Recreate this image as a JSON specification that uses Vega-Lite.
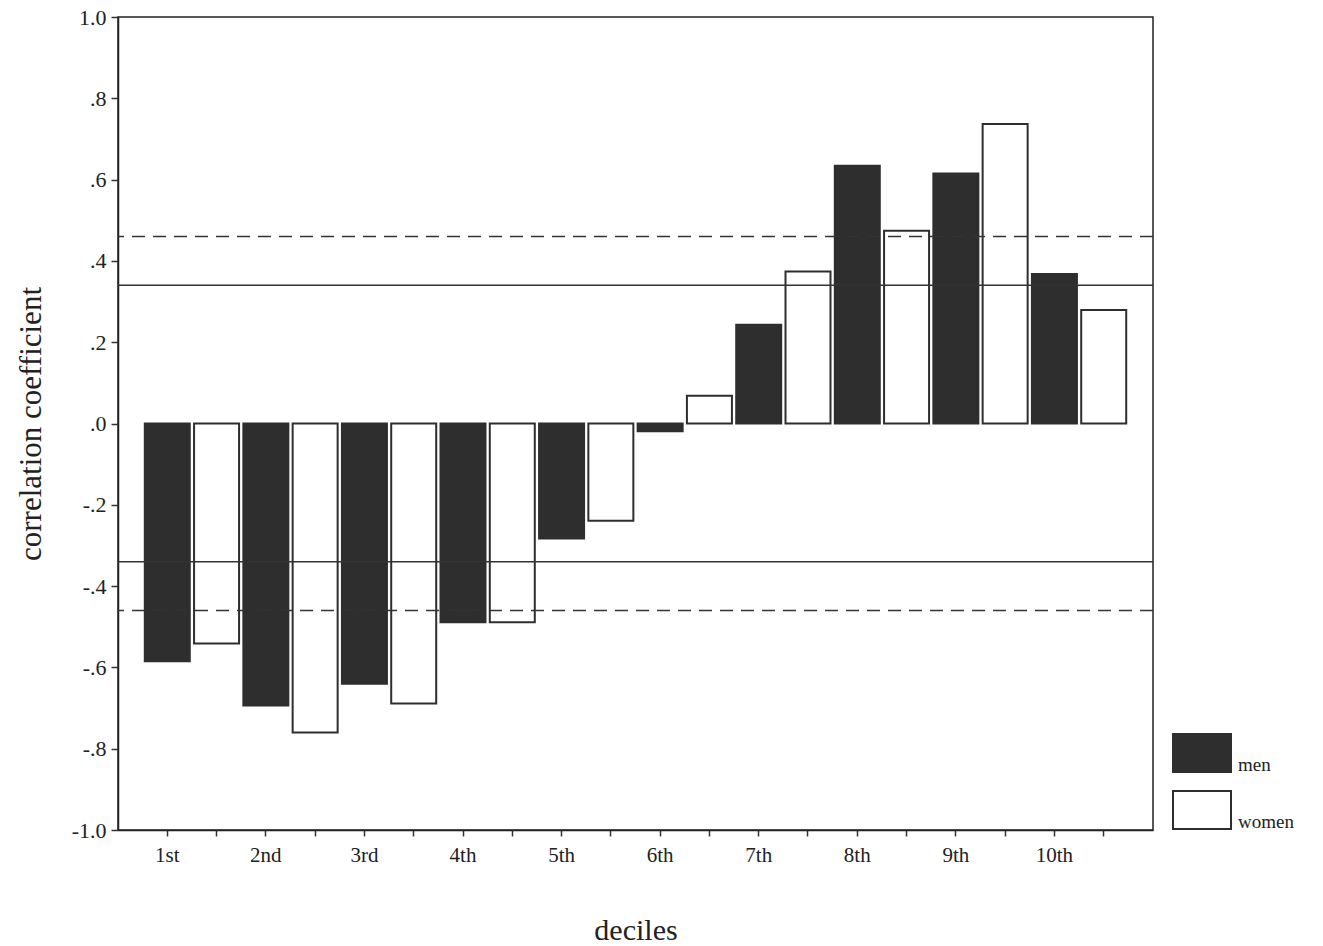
{
  "$schema": "https://vega.github.io/schema/vega-lite/v6.json",
  "width": 1035,
  "height": 813,
  "autosize": {"type": "none"},
  "padding": {"left": 118, "top": 17, "right": 170, "bottom": 116},
  "background": "white",
  "config": {
    "view": {"stroke": "#222", "strokeWidth": 1.5},
    "font": "Liberation Serif"
  },
  "datasets": {
    "bars": [
      {"key": "1st men", "decile": "1st", "sex": "men", "r": -0.585},
      {"key": "1st women", "decile": "1st", "sex": "women", "r": -0.541},
      {"key": "2nd men", "decile": "2nd", "sex": "men", "r": -0.694},
      {"key": "2nd women", "decile": "2nd", "sex": "women", "r": -0.76},
      {"key": "3rd men", "decile": "3rd", "sex": "men", "r": -0.64},
      {"key": "3rd women", "decile": "3rd", "sex": "women", "r": -0.689},
      {"key": "4th men", "decile": "4th", "sex": "men", "r": -0.489},
      {"key": "4th women", "decile": "4th", "sex": "women", "r": -0.489},
      {"key": "5th men", "decile": "5th", "sex": "men", "r": -0.283},
      {"key": "5th women", "decile": "5th", "sex": "women", "r": -0.239},
      {"key": "6th men", "decile": "6th", "sex": "men", "r": -0.019},
      {"key": "6th women", "decile": "6th", "sex": "women", "r": 0.068},
      {"key": "7th men", "decile": "7th", "sex": "men", "r": 0.243},
      {"key": "7th women", "decile": "7th", "sex": "women", "r": 0.374},
      {"key": "8th men", "decile": "8th", "sex": "men", "r": 0.634},
      {"key": "8th women", "decile": "8th", "sex": "women", "r": 0.474},
      {"key": "9th men", "decile": "9th", "sex": "men", "r": 0.615},
      {"key": "9th women", "decile": "9th", "sex": "women", "r": 0.737},
      {"key": "10th men", "decile": "10th", "sex": "men", "r": 0.368},
      {"key": "10th women", "decile": "10th", "sex": "women", "r": 0.279}
    ],
    "refs": [
      {"level": 0.34, "kind": "solid"},
      {"level": -0.34, "kind": "solid"},
      {"level": 0.46, "kind": "dashed"},
      {"level": -0.46, "kind": "dashed"}
    ]
  },
  "layer": [
    {
      "data": {"name": "bars"},
      "mark": {"type": "bar", "strokeWidth": 2},
      "encoding": {
        "x": {
          "field": "key",
          "type": "nominal",
          "sort": null,
          "scale": {"paddingInner": 0.087, "paddingOuter": 0.5435},
          "axis": {
            "title": "deciles",
            "titleFontSize": 30,
            "titleFontWeight": "normal",
            "titleColor": "#222",
            "titlePadding": 50,
            "labelAngle": 0,
            "labelFontSize": 21,
            "labelColor": "#222",
            "labelPadding": 8,
            "tickSize": 6,
            "tickColor": "#333",
            "tickWidth": 1.5,
            "domainColor": "#222",
            "domainWidth": 1.5,
            "labelExpr": "indexof(datum.label, ' men') > 0 ? replace(datum.label, ' men', '') : ''"
          }
        },
        "y": {
          "field": "r",
          "type": "quantitative",
          "scale": {"domain": [-1, 1], "nice": false},
          "axis": {
            "title": "correlation coefficient",
            "titleFontSize": 31,
            "titleFontWeight": "normal",
            "titleColor": "#222",
            "titlePadding": 24,
            "values": [-1, -0.8, -0.6, -0.4, -0.2, 0, 0.2, 0.4, 0.6, 0.8, 1],
            "labelExpr": "replace(replace(format(datum.value, '.1f'), '0.', '.'), '\u2212', '-')",
            "labelFontSize": 22,
            "labelColor": "#222",
            "labelPadding": 5,
            "tickSize": 7,
            "tickColor": "#333",
            "tickWidth": 1.5,
            "domainColor": "#222",
            "domainWidth": 1.5,
            "grid": false
          }
        },
        "fill": {
          "field": "sex",
          "type": "nominal",
          "scale": {"domain": ["men", "women"], "range": ["#2e2e2e", "#ffffff"]},
          "legend": {
            "title": null,
            "orient": "none",
            "legendX": 1054,
            "legendY": 706,
            "symbolType": "M-1,-0.655L1,-0.655L1,0.655L-1,0.655Z",
            "symbolSize": 3364,
            "symbolStrokeWidth": 2,
            "symbolStrokeColor": "#2e2e2e",
            "labelFontSize": 19,
            "labelColor": "#222",
            "labelOffset": 6,
            "labelBaseline": "middle",
            "rowPadding": 4,
            "encode": {"labels": {"update": {"dy": {"value": 12}}}}
          }
        },
        "stroke": {"value": "#2e2e2e"}
      }
    },
    {
      "data": {"name": "refs"},
      "mark": {"type": "rule", "color": "#333", "strokeWidth": 1.5},
      "encoding": {
        "y": {"field": "level", "type": "quantitative"},
        "strokeDash": {
          "field": "kind",
          "type": "nominal",
          "scale": {"domain": ["solid", "dashed"], "range": [[1, 0], [13, 8]]},
          "legend": null
        }
      }
    }
  ]
}
